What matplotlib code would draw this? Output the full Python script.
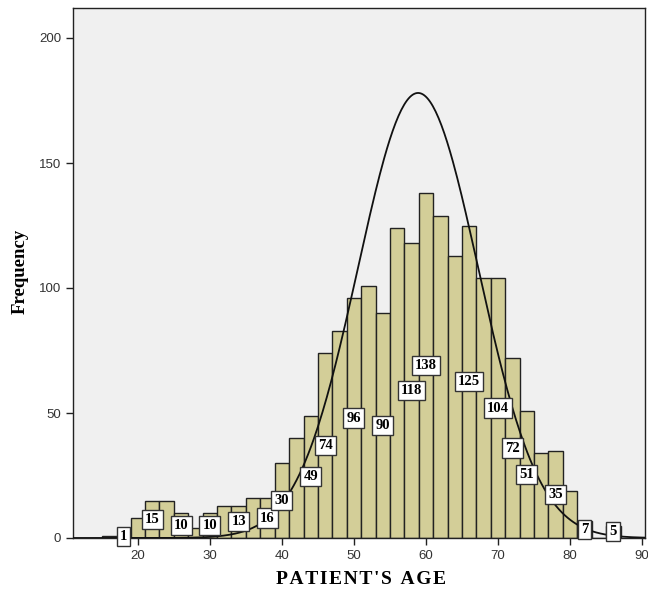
import numpy as np
import matplotlib
matplotlib.use('Agg')
import matplotlib.pyplot as plt

# histogram bins (2-year width), left edges 15..85
bin_edges = list(range(15, 89, 2))
counts = [1, 1, 8, 15, 15, 10, 4, 10, 13, 13,
          16, 16, 30, 40, 49, 74, 83, 96, 101, 90,
          124, 118, 138, 129, 113, 125, 104, 104, 72, 51,
          34, 35, 19, 7, 0, 5]
# bins that carry a value label (by left edge)
labeled_bins = [17, 21, 25, 29, 33, 37, 39, 43, 45, 49,
                53, 57, 59, 65, 69, 71, 73, 77, 81, 85]
x_ticks = [20, 30, 40, 50, 60, 70, 80, 90]
y_ticks = [0, 50, 100, 150, 200]

# normal curve
curve_mean = 58.9
curve_sd = 8.35

fig = plt.figure(figsize=(6.48, 5.91), dpi=100)
ax = fig.add_axes([73 / 648, 53 / 591, 572 / 648, 530 / 591])
ax.set_facecolor('#f0f0f0')

width = 2
lefts = np.array(bin_edges[:-1])
ax.bar(lefts, counts, width=width, align='edge', color='#d3ce98',
       edgecolor='#222222', linewidth=1.0, zorder=2)

n_total = sum(counts)
xs = np.linspace(11, 90.4, 400)
ys = n_total * width * np.exp(-(xs - curve_mean) ** 2 / (2 * curve_sd ** 2)) / (curve_sd * np.sqrt(2 * np.pi))
ax.plot(xs, ys, color='#111111', lw=1.3, zorder=3)

for left, c in zip(lefts, counts):
    if left in labeled_bins:
        ax.text(left + width / 2, c / 2, str(c), ha='center', va='center',
                family='Liberation Serif', fontweight='bold', fontsize=10.5,
                zorder=4,
                bbox=dict(boxstyle='square,pad=0.22', fc='white', ec='#333333', lw=1.0))

ax.set_xlim(11, 90.4)
ax.set_ylim(0, 212)
ax.set_xticks(x_ticks)
ax.set_yticks(y_ticks)
ax.tick_params(length=5, width=1, colors='#222222', labelsize=9.5, labelcolor='#333333')
for lab in ax.get_xticklabels() + ax.get_yticklabels():
    lab.set_family('Liberation Sans')
for sp in ax.spines.values():
    sp.set_color('#222222')
    sp.set_linewidth(1.0)

# letter-spaced axis title
hair = '\u200a'
xtitle = hair.join("PATIENT'S") + '  ' + hair.join('AGE')
fig.text(361 / 648, 1 - 580 / 591, xtitle, ha='center', va='center',
         family=['Liberation Serif', 'DejaVu Serif'], fontweight='bold', fontsize=14)
fig.text(20 / 648, 1 - 271 / 591, 'Frequency', ha='center', va='center', rotation=90,
         family='Liberation Serif', fontweight='bold', fontsize=13.5)

fig.savefig('out.png', dpi=100, facecolor='white')
